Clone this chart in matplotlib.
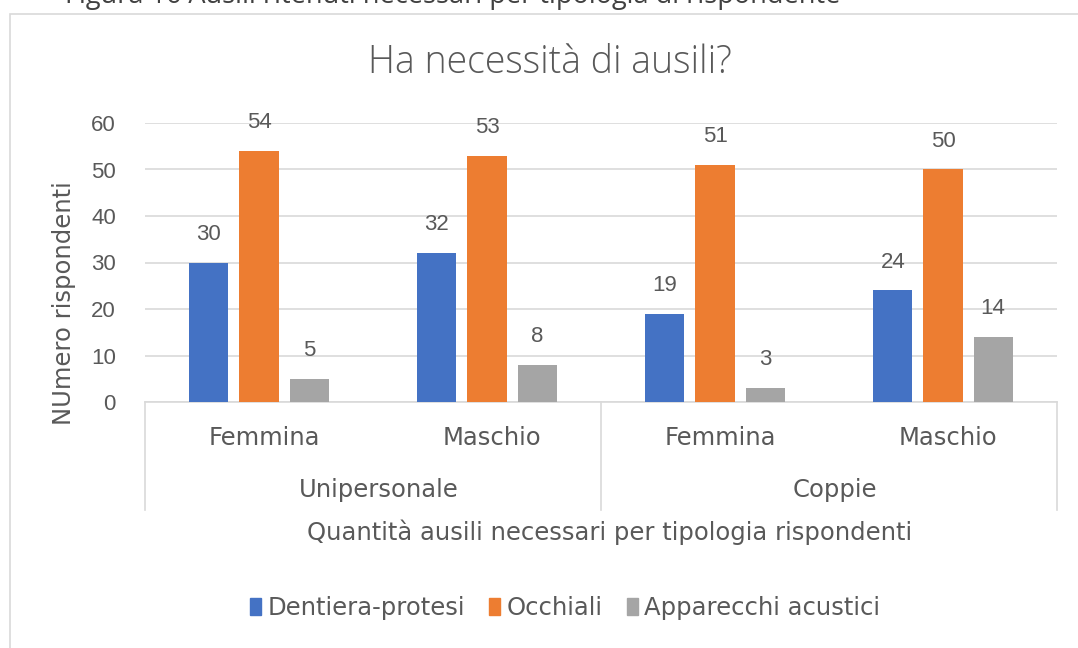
import matplotlib
matplotlib.use("Agg")
from matplotlib import pyplot as plt
from matplotlib.patches import Patch, Rectangle
from matplotlib.transforms import blended_transform_factory
import numpy as np

groups = ["Unipersonale", "Coppie"]
sexes = ["Femmina", "Maschio", "Femmina", "Maschio"]
series_names = ["Dentiera-protesi", "Occhiali", "Apparecchi acustici"]
dentiera = [30, 32, 19, 24]
occhiali = [54, 53, 51, 50]
apparecchi = [5, 8, 3, 14]
colors = ["#4472C4", "#ED7D31", "#A5A5A5"]

txt = "#595959"
grid = "#D9D9D9"
W, H = 1078, 648
num_font = ["Liberation Sans", "DejaVu Sans"]

fig = plt.figure(figsize=(W / 100, H / 100), dpi=100)

# caption cut at the top of the page
fig.text(65 / W, 1 - 3 / H, "Figura 16 Ausili ritenuti necessari per tipologia di rispondente",
         fontsize=19.5, color="#404040", va="baseline", ha="left",
         family=["Open Sans", "DejaVu Sans"])

# chart frame
fig.patches.append(Rectangle((10 / W, -0.1), 1.2, 1 - 14 / H + 0.1, transform=fig.transFigure,
                             fill=False, edgecolor=grid, lw=1.2))

ax = fig.add_axes([145 / W, 1 - 402 / H, (1057 - 145) / W, (402 - 123) / H])
ax.set_xlim(-0.5, 3.5)
ax.set_ylim(0, 60)

x = np.arange(len(sexes))
step = 0.22
width = 0.172
for i, (vals, name) in enumerate(zip([dentiera, occhiali, apparecchi], series_names)):
    bars = ax.bar(x + (i - 1) * step, vals, width, color=colors[i], label=name, zorder=3)
    for b, v in zip(bars, vals):
        ax.text(b.get_x() + b.get_width() / 2, v + 4.9, str(v), ha="center", va="baseline",
                fontsize=16, color=txt, family=num_font)

ax.set_yticks(range(0, 61, 10))
ax.yaxis.grid(True, color=grid, lw=1.2, zorder=0)
ax.tick_params(axis="y", length=0, pad=21, labelsize=16, labelcolor=txt)
for lab in ax.get_yticklabels():
    lab.set_family(num_font)
ax.set_xticks([])
for s in ["top", "right", "left"]:
    ax.spines[s].set_visible(False)
ax.spines["bottom"].set_color(grid)
ax.spines["bottom"].set_linewidth(1.2)

fig.text(64 / W, 1 - 303 / H, "NUmero rispondenti", rotation=90, ha="center", va="center",
         fontsize=17.5, color=txt)

# multi-level category axis
tr = blended_transform_factory(ax.transData, ax.transAxes)
px = 1 / (402 - 123)
for xs in [-0.5, 1.5, 3.5]:
    ax.plot([xs, xs], [0, -108 * px], transform=tr, color=grid, lw=1.2, clip_on=False)
for xi, s in zip(x, sexes):
    ax.text(xi + 0.022, -43 * px, s, transform=tr, ha="center", va="baseline",
            fontsize=17.5, color=txt)
for gi, g in enumerate(groups):
    ax.text(0.525 + 2 * gi, -95 * px, g, transform=tr, ha="center", va="baseline",
            fontsize=17.5, color=txt)

fig.text(610 / W, 1 - 540 / H, "Quantità ausili necessari per tipologia rispondenti",
         ha="center", va="baseline", fontsize=17.5, color=txt)

handles = [Patch(color=c, label=n) for c, n in zip(colors, series_names)]
leg = fig.legend(handles=handles, loc="center", bbox_to_anchor=(565 / W, 1 - 608 / H), ncol=3,
                 frameon=False, fontsize=17.5, handlelength=0.45, handleheight=0.75,
                 handletextpad=0.25, columnspacing=1.0)
for t in leg.get_texts():
    t.set_color(txt)

fig.text(550 / W, 1 - 73 / H, "Ha necessità di ausili?", ha="center", va="baseline",
         fontsize=27, color=txt, fontweight="light", family=["Open Sans", "DejaVu Sans"])

fig.savefig("out.png", dpi=100)
